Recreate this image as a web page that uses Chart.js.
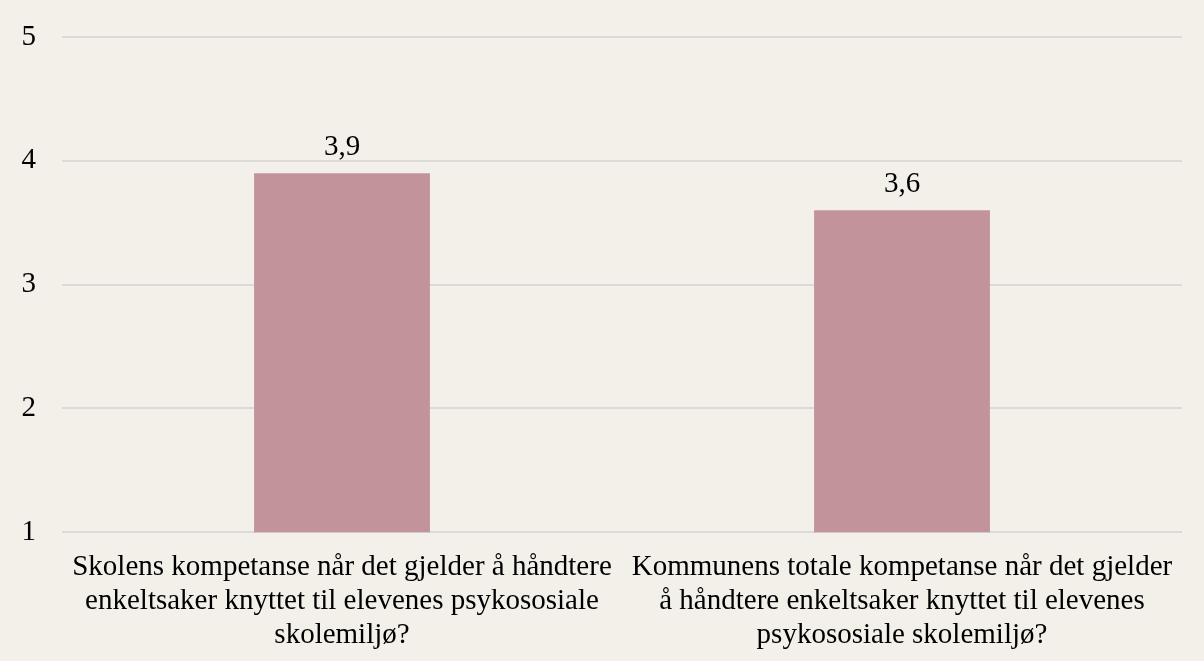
<!DOCTYPE html>
<html>
<head>
<meta charset="utf-8">
<script src="https://cdn.jsdelivr.net/npm/chart.js@4/dist/chart.umd.min.js"></script>
<style>
	html, body { margin: 0; padding: 0; background: #F3F0EA; }
	#wrap { width: 1204px; height: 661px; }
</style>
</head>
<body>
<div id="wrap"><canvas id="chart"></canvas></div>
<script>
var categories = [
	['Skolens kompetanse når det gjelder å håndtere', 'enkeltsaker knyttet til elevenes psykososiale', 'skolemiljø?'],
	['Kommunens totale kompetanse når det gjelder', 'å håndtere enkeltsaker knyttet til elevenes', 'psykososiale skolemiljø?']
];
var values = [3.9, 3.6];
var yTicks = [1, 2, 3, 4, 5];

var barColor = '#C3939B';
var gridColor = '#DCDAD6';
var fontFamily = '"Liberation Serif", "Times New Roman", serif';
var fontSize = 29;

// value labels above bars, norwegian decimal comma
var valueLabels = {
	id: 'valueLabels',
	afterDatasetsDraw: function (chart) {
		var ctx = chart.ctx;
		var meta = chart.getDatasetMeta(0);
		ctx.save();
		ctx.font = fontSize + 'px ' + fontFamily;
		ctx.fillStyle = '#000000';
		ctx.textAlign = 'center';
		ctx.textBaseline = 'alphabetic';
		for (var i = 0; i < meta.data.length; i++) {
			var bar = meta.data[i];
			var txt = values[i].toFixed(1).replace('.', ',');
			ctx.fillText(txt, bar.x, bar.y - 18);
		}
		ctx.restore();
	}
};

var config = {
	'type': 'bar',
	'data': {
		'labels': categories,
		'datasets': [{
			'data': values,
			'backgroundColor': barColor,
			'borderWidth': 0,
			'barPercentage': 1,
			'categoryPercentage': 0.314
		}]
	},
	'options': {
		'responsive': true,
		'maintainAspectRatio': false,
		'animation': false,
		'layout': { 'padding': { 'top': 37, 'right': 22, 'bottom': -9, 'left': 0 } },
		'plugins': {
			'legend': { 'display': false },
			'tooltip': { 'enabled': false }
		},
		'scales': {
			'x': {
				'grid': { 'display': false, 'drawTicks': false },
				'border': { 'display': false },
				'ticks': {
					'color': '#000000',
					'maxRotation': 0,
					'autoSkip': false,
					'padding': 18,
					'font': { 'family': fontFamily, 'size': fontSize, 'lineHeight': 1.17 }
				}
			},
			'y': {
				'min': 1,
				'max': 5,
				'afterBuildTicks': function (axis) {
					axis.ticks = yTicks.map(function (v) { return { 'value': v }; });
				},
				'afterFit': function (axis) { axis.width = 62; },
				'grid': { 'color': gridColor, 'lineWidth': 2, 'drawTicks': false },
				'border': { 'display': false },
				'ticks': {
					'color': '#000000',
					'padding': 26,
					'font': { 'family': fontFamily, 'size': fontSize, 'lineHeight': 0.6 }
				}
			}
		}
	},
	'plugins': [valueLabels]
};

var chart = new Chart(document.getElementById('chart'), config);
</script>
</body>
</html>
